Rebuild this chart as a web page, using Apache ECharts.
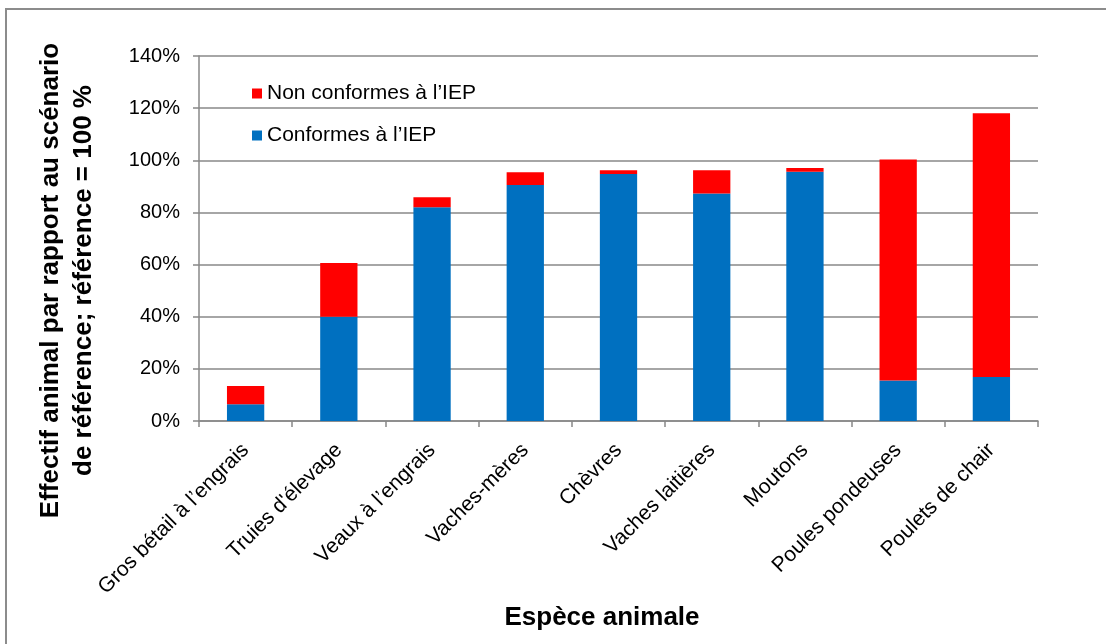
<!DOCTYPE html>
<html>
<head>
<meta charset="utf-8">
<script src="https://cdn.jsdelivr.net/npm/echarts@6/dist/echarts.min.js"></script>
<style>
  html, body { margin: 0; padding: 0; background: #fff; }
  #chart { width: 1106px; height: 644px; }
</style>
</head>
<body>
<div id="chart"></div>
<script>
// categories and values (% of reference scenario)
const categories = [
  "Gros bétail à l’engrais",
  "Truies d'élevage",
  "Veaux à l’engrais",
  "Vaches-mères",
  "Chèvres",
  "Vaches laitières",
  "Moutons",
  "Poules pondeuses",
  "Poulets de chair"
];
const conformes = [6.4, 40.0, 82.0, 90.5, 94.7, 87.3, 95.6, 15.5, 16.9];
const nonConformes = [7.0, 20.6, 3.8, 4.9, 1.5, 8.9, 1.4, 84.8, 101.1];
const yTicks = [0, 20, 40, 60, 80, 100, 120, 140];

const font = "Liberation Sans, Arial, sans-serif";
const gray = "#888888";

const chart = echarts.init(document.getElementById("chart"), null, { renderer: "canvas" });

chart.setOption({
  animation: false,
  backgroundColor: "#ffffff",
  textStyle: { fontFamily: font, color: "#000" },
  graphic: [{
    type: "rect",
    shape: { x: 6, y: 9, width: 1200, height: 700 },
    style: { fill: "none", stroke: "#8c8c8c", lineWidth: 2 },
    silent: true
  }],
  grid: { left: 199, right: 68, top: 56, bottom: 223, outerBoundsMode: "none", containLabel: false },
  legend: {
    orient: "vertical",
    left: 247,
    top: 78,
    itemWidth: 10,
    itemHeight: 10,
    itemGap: 21,
    icon: "rect",
    data: ["Non conformes à l’IEP", "Conformes à l’IEP"],
    textStyle: { fontFamily: font, fontSize: 21, lineHeight: 21, color: "#000" }
  },
  xAxis: {
    type: "category",
    data: categories,
    name: "Espèce animale",
    nameLocation: "middle",
    nameGap: 179,
    nameTextStyle: { fontFamily: font, fontSize: 26, lineHeight: 26, fontWeight: "bold", color: "#000", padding: [0, 33, 0, 0] },
    axisLine: { lineStyle: { color: gray, width: 1.5 } },
    axisTick: { show: true, length: 6, lineStyle: { color: gray, width: 1.5 } },
    axisLabel: { rotate: 45, fontFamily: font, fontSize: 21, color: "#000", margin: 26, interval: 0 }
  },
  yAxis: {
    type: "value",
    min: yTicks[0],
    max: yTicks[yTicks.length - 1],
    interval: 20,
    name: "Effectif animal par rapport au scénario\nde référence; référence = 100 %",
    nameLocation: "middle",
    nameRotate: 90,
    nameGap: 99,
    nameTextStyle: { fontFamily: font, fontSize: 26, fontWeight: "bold", color: "#000", lineHeight: 33, padding: [0, 84, 0, 0] },
    axisLine: { show: true, lineStyle: { color: gray, width: 1.5 } },
    axisTick: { show: true, length: 6, lineStyle: { color: gray, width: 1.5 } },
    axisLabel: { fontFamily: font, fontSize: 20, color: "#000", margin: 19, formatter: v => v + "%" },
    splitLine: { lineStyle: { color: gray, width: 1.5 } }
  },
  series: [
    {
      name: "Conformes à l’IEP",
      type: "bar",
      stack: "total",
      barWidth: "40%",
      itemStyle: { color: "#0070C0" },
      data: conformes
    },
    {
      name: "Non conformes à l’IEP",
      type: "bar",
      stack: "total",
      barWidth: "40%",
      itemStyle: { color: "#FF0000" },
      data: nonConformes
    }
  ]
});
</script>
</body>
</html>
